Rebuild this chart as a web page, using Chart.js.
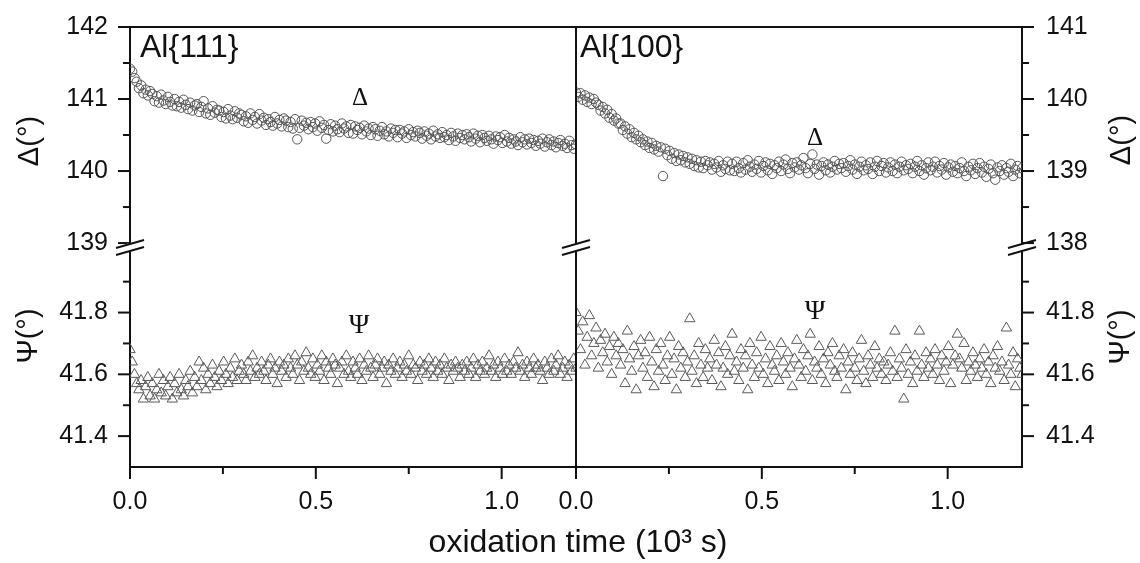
<!DOCTYPE html>
<html>
<head>
<meta charset="utf-8">
<script src="https://cdn.jsdelivr.net/npm/chart.js@4/dist/chart.umd.min.js"></script>
<style>
html,body{margin:0;padding:0;background:#fff;}
#wrap{width:1140px;height:563px;position:relative;}
canvas{display:block;}
</style>
</head>
<body>
<div id="wrap"><canvas id="c" width="1140" height="563"></canvas></div>
<script>
// ---- data (time in seconds; axis shown in 10^3 s) ----
const timesS = [0,6,12,18,24,30,36,42,48,54,
60,66,72,78,84,90,96,102,108,114,
120,126,132,138,144,150,156,162,168,174,
180,186,192,198,204,210,216,222,228,234,
240,246,252,258,264,270,276,282,288,294,
300,306,312,318,324,330,336,342,348,354,
360,366,372,378,384,390,396,402,408,414,
420,426,432,438,444,450,456,462,468,474,
480,486,492,498,504,510,516,522,528,534,
540,546,552,558,564,570,576,582,588,594,
600,606,612,618,624,630,636,642,648,654,
660,666,672,678,684,690,696,702,708,714,
720,726,732,738,744,750,756,762,768,774,
780,786,792,798,804,810,816,822,828,834,
840,846,852,858,864,870,876,882,888,894,
900,906,912,918,924,930,936,942,948,954,
960,966,972,978,984,990,996,1002,1008,1014,
1020,1026,1032,1038,1044,1050,1056,1062,1068,1074,
1080,1086,1092,1098,1104,1110,1116,1122,1128,1134,
1140,1146,1152,1158,1164,1170,1176,1182,1188,1194,1200];

// Al{111} Delta
const delta111 = [141.42,141.38,141.29,141.24,141.15,141.19,141.08,141.13,141.05,141.11,
141.07,140.97,141.04,140.95,141.06,140.98,140.93,141.03,140.96,140.91,
141.00,140.90,140.96,140.88,140.99,140.92,140.86,140.95,140.84,140.91,
140.93,140.82,140.89,140.97,140.80,140.87,140.78,140.90,140.81,140.85,
140.84,140.75,140.82,140.73,140.86,140.77,140.72,140.83,140.74,140.80,
140.78,140.69,140.76,140.67,140.80,140.71,140.75,140.66,140.79,140.70,
140.74,140.64,140.72,140.68,140.63,140.75,140.66,140.71,140.62,140.73,
140.70,140.61,140.68,140.59,140.72,140.44,140.60,140.70,140.63,140.67,
140.58,140.68,140.61,140.66,140.56,140.69,140.60,140.64,140.45,140.57,
140.65,140.55,140.63,140.58,140.54,140.66,140.59,140.62,140.53,140.64,
140.52,140.62,140.57,140.60,140.51,140.63,140.55,140.59,140.50,140.61,
140.58,140.49,140.56,140.61,140.51,140.55,140.48,140.59,140.53,140.57,
140.47,140.57,140.52,140.55,140.46,140.58,140.50,140.54,140.48,140.56,
140.53,140.45,140.55,140.49,140.52,140.44,140.56,140.48,140.51,140.46,
140.54,140.47,140.50,140.43,140.53,140.48,140.42,140.52,140.46,140.50,
140.44,140.51,140.47,140.41,140.52,140.45,140.49,140.40,140.50,140.46,
140.42,140.49,140.44,140.38,140.48,140.43,140.47,140.39,140.50,140.41,
140.46,140.38,140.44,140.41,140.36,140.47,140.40,140.44,140.37,140.45,
140.39,140.43,140.35,140.42,140.38,140.45,140.34,140.40,140.44,140.36,
140.41,140.33,140.39,140.43,140.35,140.38,140.32,140.42,140.36,140.31,140.37];

// Al{111} Psi
const psi111 = [41.68,41.64,41.60,41.57,41.55,41.58,41.52,41.56,41.59,41.53,
41.57,41.52,41.55,41.60,41.54,41.58,41.53,41.56,41.59,41.52,
41.57,41.54,41.60,41.55,41.53,41.58,41.56,41.61,41.54,41.59,
41.56,41.64,41.58,41.62,41.55,41.60,41.57,41.63,41.59,41.56,
41.61,41.58,41.64,41.60,41.57,41.62,41.59,41.65,41.58,41.61,
41.63,41.60,41.58,41.64,41.61,41.66,41.59,41.62,41.60,41.64,
41.61,41.58,41.63,41.65,41.60,41.62,41.57,41.64,41.61,41.63,
41.59,41.65,41.62,41.60,41.66,41.63,41.58,41.64,41.61,41.67,
41.62,41.60,41.65,41.59,41.63,41.61,41.66,41.58,41.64,41.62,
41.60,41.65,41.63,41.57,41.62,41.64,41.60,41.66,41.61,41.59,
41.64,41.62,41.60,41.65,41.58,41.63,41.61,41.66,41.62,41.59,
41.63,41.65,41.60,41.62,41.64,41.57,41.63,41.61,41.65,41.60,
41.62,41.64,41.59,41.63,41.61,41.66,41.60,41.63,41.62,41.58,
41.64,41.61,41.63,41.60,41.65,41.62,41.59,41.64,41.61,41.63,
41.60,41.65,41.62,41.58,41.63,41.61,41.64,41.62,41.59,41.63,
41.61,41.64,41.60,41.62,41.65,41.59,41.63,41.61,41.64,41.60,
41.62,41.66,41.61,41.63,41.59,41.64,41.62,41.60,41.65,41.61,
41.63,41.60,41.64,41.62,41.67,41.61,41.63,41.59,41.64,41.62,
41.60,41.65,41.62,41.63,41.61,41.58,41.64,41.62,41.60,41.65,
41.61,41.63,41.66,41.60,41.62,41.64,41.59,41.63,41.61,41.65,41.62];

// Al{100} Delta
const delta100 = [140.09,140.03,140.08,139.99,140.05,139.96,140.02,139.93,140.00,139.95,
139.92,139.84,139.89,139.80,139.85,139.74,139.79,139.70,139.73,139.66,
139.66,139.57,139.62,139.52,139.58,139.47,139.53,139.44,139.49,139.40,
139.44,139.36,139.41,139.32,139.39,139.30,139.35,139.27,139.33,138.93,
139.31,139.22,139.28,139.17,139.25,139.14,139.23,139.15,139.21,139.12,
139.19,139.10,139.17,139.07,139.15,139.05,139.13,139.04,139.14,139.08,
139.12,139.02,139.10,139.05,139.14,138.99,139.08,139.03,139.13,139.01,
139.10,139.00,139.13,139.04,138.98,139.11,139.02,139.15,139.06,138.99,
139.09,139.03,139.14,138.98,139.07,139.12,139.01,139.10,138.96,139.08,
139.04,139.13,139.00,139.09,139.16,139.03,138.97,139.11,139.05,139.12,
139.02,139.08,139.18,139.04,138.97,139.10,139.23,139.03,139.09,138.95,
139.07,139.12,139.01,139.09,138.98,139.06,139.14,139.02,139.10,139.04,
139.11,138.99,139.07,139.15,139.02,139.09,138.96,139.06,139.13,139.01,
139.08,139.03,139.12,138.96,139.06,139.14,139.00,139.07,139.11,138.98,
139.05,139.12,139.00,139.09,138.97,139.06,139.13,139.01,139.08,139.03,
139.10,138.97,139.06,139.14,139.00,139.08,138.95,139.04,139.12,139.01,
139.06,139.13,138.98,139.07,139.02,139.11,138.95,139.05,139.09,138.99,
139.07,138.97,139.04,139.12,139.00,138.93,139.06,139.01,139.10,138.96,
139.04,139.11,138.98,139.06,138.92,139.03,139.09,138.97,138.88,139.05,
139.00,139.08,138.95,139.04,138.99,139.10,138.93,139.02,139.07,138.97,139.04];

// Al{100} Psi
const psi100 = [41.80,41.74,41.68,41.77,41.63,41.72,41.79,41.66,41.70,41.75,
41.62,41.71,41.67,41.73,41.64,41.69,41.60,41.72,41.66,41.70,
41.63,41.68,41.57,41.74,41.65,41.61,41.69,41.55,41.66,41.71,
41.62,41.67,41.59,41.72,41.64,41.56,41.68,41.61,41.70,41.63,
41.58,41.66,41.72,41.60,41.65,41.55,41.69,41.62,41.67,41.59,
41.64,41.78,41.61,41.66,41.57,41.70,41.63,41.59,41.68,41.62,
41.65,41.58,41.71,41.63,41.67,41.56,41.62,41.69,41.60,41.66,
41.73,41.61,41.64,41.58,41.68,41.62,41.66,41.55,41.70,41.63,
41.59,41.67,41.62,41.72,41.60,41.65,41.57,41.69,41.63,41.61,
41.66,41.58,41.70,41.64,41.60,41.67,41.62,41.56,41.65,41.71,
41.63,41.59,41.68,41.61,41.66,41.73,41.58,41.64,41.62,41.69,
41.60,41.65,41.57,41.67,41.63,41.70,41.61,41.59,41.66,41.62,
41.68,41.55,41.64,41.60,41.67,41.62,41.58,41.65,41.71,41.61,
41.57,41.66,41.63,41.59,41.69,41.62,41.65,41.60,41.64,41.58,
41.63,41.67,41.61,41.74,41.59,41.65,41.62,41.52,41.68,41.60,
41.64,41.57,41.66,41.61,41.74,41.63,41.59,41.67,41.62,41.65,
41.60,41.68,41.63,41.58,41.66,41.61,41.64,41.69,41.57,41.63,
41.66,41.73,41.65,41.62,41.70,41.58,41.64,41.61,41.67,41.63,
41.59,41.65,41.62,41.68,41.60,41.64,41.57,41.66,41.62,41.69,
41.61,41.64,41.58,41.75,41.63,41.60,41.67,41.56,41.65,41.62,41.60];

// ticks
const xMajor = [0, 500, 1000];
const xMinor = [250, 750];
const xTickLabels = ['0.0', '0.5', '1.0'];
const deltaLMajor = [139, 140, 141, 142];
const deltaLMinor = [139.5, 140.5, 141.5];
const deltaLLabels = ['139', '140', '141', '142'];
const deltaRMajor = [138, 139, 140, 141];
const deltaRMinor = [138.5, 139.5, 140.5];
const deltaRLabels = ['138', '139', '140', '141'];
const psiMajor = [41.4, 41.6, 41.8];
const psiMinor = [41.5, 41.7, 41.9];
const psiLabels = ['41.4', '41.6', '41.8'];

const panelNames = ['Al{111}', 'Al{100}'];
const seriesSymbols = ['\u0394', '\u03A8'];
const axisTitles = ['\u0394(\u00B0)', '\u03A8(\u00B0)'];
const xTitle = 'oxidation time (10\u00B3 s)';

// ---- chart ----
const SANS = '"Liberation Sans", Arial, sans-serif';
const SERIF = '"Liberation Serif", "Times New Roman", serif';
const INK = '#111';
const tickFont = {family: SANS, size: 25};

const pts = ys => timesS.map((t, i) => ({x: t, y: ys[i]}));

function xScale() {
  return {
    type: 'linear', position: 'bottom', stack: 'xs', stackWeight: 1,
    min: 0, max: 1200,
    afterBuildTicks: s => { s.ticks = xMajor.map(v => ({value: v})); },
    afterFit: s => { s.height = 96; },
    ticks: {callback: (v, i) => xTickLabels[i], autoSkip: false, maxRotation: 0, padding: 8, font: tickFont, color: INK},
    grid: {display: false, drawTicks: true, tickLength: 12},
    border: {display: true, color: INK, width: 2}
  };
}
function yScale(pos, weight, stackWeight, min, max, major, labels) {
  return {
    type: 'linear', position: pos, stack: pos + 'st', stackWeight: stackWeight, weight: weight,
    min: min, max: max,
    afterBuildTicks: s => { s.ticks = major.map(v => ({value: v})); },
    afterFit: s => { s.width = pos === 'left' ? 130 : 118; },
    ticks: {callback: (v, i) => labels[i], autoSkip: false, padding: pos === 'left' ? 10 : 12, font: tickFont, color: INK},
    grid: {display: false, drawTicks: true, tickLength: 12},
    border: {display: true, color: INK, width: 2}
  };
}

const decor = {
  id: 'decor',
  afterDraw(chart) {
    const ctx = chart.ctx;
    const s = chart.scales;
    ctx.save();
    ctx.strokeStyle = INK;
    ctx.lineWidth = 2;
    ctx.lineCap = 'butt';
    const line = (x1, y1, x2, y2) => { ctx.beginPath(); ctx.moveTo(x1, y1); ctx.lineTo(x2, y2); ctx.stroke(); };
    // frame top + middle divider
    line(s.xL.left - 1, s.yDL.top, s.xR.right + 1, s.yDL.top);
    line(s.xR.left, s.yDL.top, s.xR.left, s.yPL.bottom);
    // ticks
    const ticks = (sc, vals, len) => vals.forEach(v => {
      const p = sc.getPixelForValue(v);
      if (sc.isHorizontal()) line(p, sc.top, p, sc.top + len);
      else if (sc.position === 'left') line(sc.right, p, sc.right - len, p);
      else line(sc.left, p, sc.left + len, p);
    });
    ticks(s.xL, xMajor, 12); ticks(s.xL, xMinor, 7);
    ticks(s.xR, xMajor, 12); ticks(s.xR, xMinor, 7);
    ticks(s.yDL, deltaLMajor, 12); ticks(s.yDL, deltaLMinor, 7);
    ticks(s.yPL, psiMajor, 12); ticks(s.yPL, psiMinor, 7);
    ticks(s.yDR, deltaRMajor, 12); ticks(s.yDR, deltaRMinor, 7);
    ticks(s.yPR, psiMajor, 12); ticks(s.yPR, psiMinor, 7);
    // axis breaks
    const yb = s.yPL.top + 4.5;
    [s.xL.left, s.xR.left, s.xR.right].forEach(x => {
      ctx.fillStyle = '#fff';
      ctx.fillRect(x - 3, yb - 4, 6, 8);
      line(x - 14, yb + 0.5, x + 14, yb - 7.5);
      line(x - 14, yb + 7.5, x + 14, yb - 0.5);
    });
    // texts
    ctx.fillStyle = INK;
    ctx.textAlign = 'left'; ctx.textBaseline = 'alphabetic';
    ctx.font = '32px ' + SANS;
    ctx.fillText(panelNames[0], 140, 57);
    ctx.fillText(panelNames[1], 580, 57);
    ctx.textAlign = 'center';
    ctx.font = '25px ' + SERIF;
    ctx.fillText(seriesSymbols[0], 360, 105);
    ctx.fillText(seriesSymbols[0], 815, 145);
    ctx.font = '28px ' + SERIF;
    ctx.fillText(seriesSymbols[1], 359, 333);
    ctx.fillText(seriesSymbols[1], 815, 319);
    ctx.font = '32px ' + SANS;
    ctx.fillText(xTitle, 578, 552);
    const rot = (t, x, y) => { ctx.save(); ctx.translate(x, y); ctx.rotate(-Math.PI / 2); ctx.textAlign = 'center'; ctx.textBaseline = 'middle'; ctx.fillText(t, 0, 0); ctx.restore(); };
    ctx.font = '29px ' + SANS;
    rot(axisTitles[0], 30, 141);
    rot(axisTitles[1], 29, 336);
    rot(axisTitles[0], 1122, 140);
    rot(axisTitles[1], 1121, 337);
    ctx.restore();
  }
};

const circle = {pointStyle: 'circle', pointRadius: 4.7, borderColor: '#555', backgroundColor: 'rgba(0,0,0,0)', borderWidth: 1};
const tri = {pointStyle: 'triangle', pointRadius: 6, borderColor: '#5a5a5a', backgroundColor: 'rgba(0,0,0,0)', borderWidth: 1};

new Chart(document.getElementById('c'), {
  type: 'scatter',
  data: {
    datasets: [
      Object.assign({label: 'Delta Al{111}', data: pts(delta111), xAxisID: 'xL', yAxisID: 'yDL'}, circle),
      Object.assign({label: 'Psi Al{111}', data: pts(psi111), xAxisID: 'xL', yAxisID: 'yPL'}, tri),
      Object.assign({label: 'Delta Al{100}', data: pts(delta100), xAxisID: 'xR', yAxisID: 'yDR'}, circle),
      Object.assign({label: 'Psi Al{100}', data: pts(psi100), xAxisID: 'xR', yAxisID: 'yPR'}, tri)
    ]
  },
  options: {
    responsive: false,
    devicePixelRatio: 1,
    animation: false,
    layout: {padding: {top: 21, left: 0, right: 0, bottom: 0}},
    plugins: {legend: {display: false}, tooltip: {enabled: false}, title: {display: false}},
    scales: {
      xL: xScale(),
      xR: xScale(),
      yDL: yScale('left', 1, 219, 139, 142, deltaLMajor, deltaLLabels),
      yPL: yScale('left', 0, 227, 41.3, 42.025, psiMajor, psiLabels),
      yDR: yScale('right', 0, 219, 138, 141, deltaRMajor, deltaRLabels),
      yPR: yScale('right', 0, 227, 41.3, 42.025, psiMajor, psiLabels)
    }
  },
  plugins: [decor]
});
</script>
</body>
</html>
